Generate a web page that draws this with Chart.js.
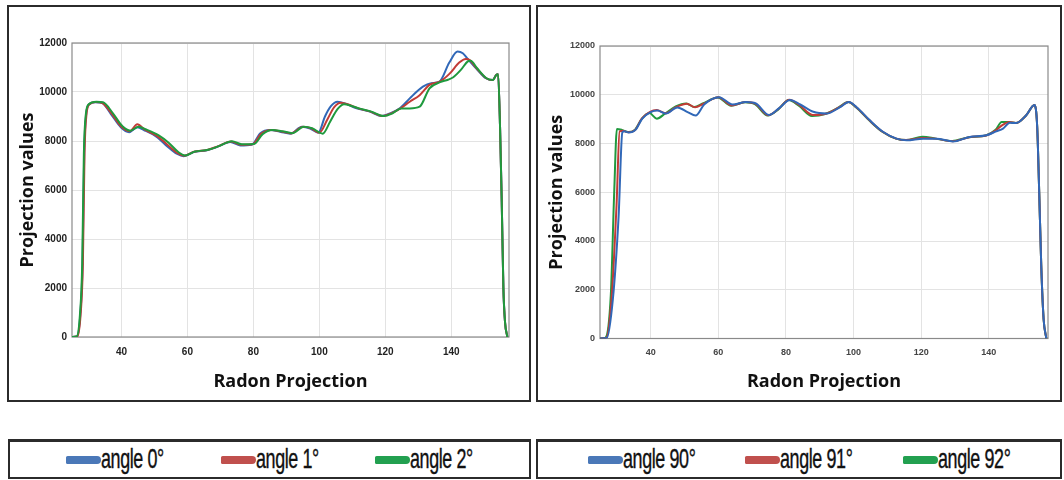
<!DOCTYPE html>
<html><head><meta charset="utf-8">
<script src="https://cdn.jsdelivr.net/npm/chart.js@4.4.0/dist/chart.umd.min.js"></script>
<style>
html,body{margin:0;padding:0;background:#fff;width:1064px;height:480px;overflow:hidden;position:relative}
.panel{position:absolute;border:2px solid #2b2b2b;box-sizing:border-box;background:#fff}
.panel canvas{position:absolute;left:0;top:0}
.legend{position:absolute;border:2px solid #2b2b2b;border-top-width:3px;box-sizing:border-box;display:flex;justify-content:space-evenly;align-items:center;background:#fff}
.item{display:flex;align-items:center;height:100%}
.sw{width:35px;height:8px;border-radius:2px 5px 5px 2px}
.lw{display:inline-block;overflow:visible;white-space:nowrap;height:34px;position:relative}
.lbl{position:absolute;left:0;top:0;font-family:"Liberation Sans",Arial,sans-serif;font-size:28px;line-height:32px;color:#111;transform:scaleX(0.64);transform-origin:left center;white-space:nowrap;letter-spacing:-0.6px;-webkit-text-stroke:0.4px #111}
</style></head>
<body>
<div class="panel" style="left:7px;top:5px;width:524px;height:397px"><canvas id="cL" width="520" height="393"></canvas></div>
<div class="panel" style="left:536px;top:5px;width:526px;height:397px"><canvas id="cR" width="522" height="393"></canvas></div>
<div class="legend" id="lgL" style="left:8px;top:439px;width:523px;height:40px"></div>
<div class="legend" id="lgR" style="left:536px;top:439px;width:526px;height:40px"></div>
<script>
// ---- data ----
const xTicks = [40, 60, 80, 100, 120, 140];
const yTicks = [0, 2000, 4000, 6000, 8000, 10000, 12000];
const leftLabels = ["angle 0°", "angle 1°", "angle 2°"];
const rightLabels = ["angle 90°", "angle 91°", "angle 92°"];

const left0 = [[25,0],[26.5,20],[27.5,900],[28.2,3000],[28.7,7500],[29.3,9100],[30.2,9500],[32,9580],[34,9560],[36.8,9100],[39.8,8560],[42.3,8360],[44.8,8560],[46.8,8450],[50.9,8150],[53.9,7780],[56.9,7470],[58.9,7380],[61.9,7550],[65.9,7620],[69,7760],[73,7960],[76,7820],[79.5,7850],[82.1,8320],[85.1,8450],[88.3,8370],[91.2,8300],[94.7,8580],[97.2,8510],[99.7,8340],[101.7,9000],[103.5,9420],[105.5,9600],[108,9520],[111.3,9330],[115.3,9200],[118.9,9020],[121.4,9130],[124.4,9330],[127.4,9740],[131.4,10220],[133.9,10360],[136.4,10420],[139.4,11200],[141.9,11650],[143.5,11580],[145,11350],[147.5,10970],[150.5,10560],[152.5,10490],[153.6,10690],[154.2,10720],[154.8,8500],[155.3,5500],[155.8,2000],[156.3,600],[157,0]];
const left1 = [[25,0],[26.6,20],[27.6,900],[28.3,3000],[28.8,7500],[29.4,9100],[30.3,9500],[32.2,9590],[34.2,9550],[37,9120],[40,8580],[42.5,8400],[44.8,8680],[47,8470],[51,8180],[54,7840],[57,7500],[59,7400],[62,7560],[66,7630],[69.2,7780],[73.2,7980],[76.2,7850],[79.8,7870],[82.4,8300],[85.4,8450],[88.5,8390],[91.5,8310],[95,8580],[97.5,8520],[100,8340],[102.5,8900],[104.5,9380],[106.5,9560],[109,9480],[111.8,9330],[115.5,9200],[119.2,9020],[121.8,9130],[124.6,9330],[127.4,9600],[130.4,9870],[133.4,10290],[136.5,10420],[139.5,10750],[142.4,11200],[144.4,11350],[145.6,11300],[147.6,10980],[150.6,10560],[152.6,10490],[153.6,10690],[154.2,10720],[154.8,8500],[155.3,5500],[155.8,2000],[156.3,600],[157,0]];
const left2 = [[25,0],[26.4,20],[27.4,900],[28.1,3000],[28.6,7500],[29.2,9100],[30.1,9500],[32.4,9600],[34.4,9580],[37.3,9150],[40.3,8600],[42.7,8420],[45.2,8580],[47.3,8480],[51.3,8230],[54.3,7930],[57.3,7540],[59.3,7410],[62.3,7570],[66.3,7640],[69.5,7790],[73.5,7990],[76.5,7870],[80.2,7880],[82.8,8280],[85.7,8450],[88.8,8400],[91.8,8320],[95.3,8580],[97.8,8520],[101,8300],[103.3,8800],[105.5,9300],[107.5,9500],[110,9420],[112.3,9320],[115.8,9200],[119.5,9020],[122.2,9130],[124.8,9330],[127.4,9330],[130.4,9400],[133.4,10150],[136.6,10400],[139,10500],[140.6,10600],[142.9,10900],[145,11250],[145.9,11280],[147.7,10990],[150.7,10560],[152.7,10490],[153.6,10690],[154.2,10720],[154.8,8500],[155.3,5500],[155.8,2000],[156.3,600],[157,0]];

const right90 = [[25,0],[27,20],[28.8,1600],[30.5,5000],[31.6,8450],[32.2,8500],[33.5,8450],[35.5,8560],[37.5,9020],[40,9290],[42,9350],[44.5,9230],[47.9,9480],[50.9,9290],[53.3,9150],[55.8,9600],[60.2,9900],[64.2,9600],[68.2,9700],[71.1,9640],[75,9170],[78,9450],[81.2,9780],[84.2,9600],[88.1,9300],[92,9230],[96,9490],[98.6,9700],[100.9,9490],[104.8,8950],[108.8,8470],[112.7,8200],[115.7,8130],[120.6,8200],[124.5,8200],[129.4,8080],[134.3,8270],[139.3,8340],[142.2,8500],[144.2,8610],[146.2,8850],[148.1,8840],[151,9150],[153.5,9580],[154.3,8700],[154.9,6000],[155.5,3000],[156.2,800],[157,0]];
const right91 = [[25,0],[26.8,20],[28.5,1800],[29.9,5500],[30.8,8500],[31.8,8520],[33.4,8460],[35.4,8560],[37.4,9030],[39.8,9300],[41.8,9370],[44.3,9240],[47.6,9500],[50.7,9630],[53.1,9490],[55.6,9630],[60,9900],[64,9560],[68,9700],[71,9630],[74.8,9160],[77.8,9420],[81,9790],[84,9570],[87.9,9170],[91.8,9220],[95.8,9490],[98.5,9700],[100.8,9490],[104.7,8950],[108.7,8470],[112.6,8200],[115.6,8140],[120.5,8230],[124.4,8200],[129.3,8090],[134.2,8260],[139.2,8330],[142.1,8540],[144,8750],[146.1,8880],[148,8840],[151,9150],[153.5,9580],[154.3,8700],[154.9,6000],[155.5,3000],[156.2,800],[157,0]];
const right92 = [[25,0],[26.5,20],[28.2,1800],[29.2,6000],[30,8600],[31.5,8560],[33.3,8470],[35.3,8560],[37.3,9000],[39.6,9250],[41.8,9020],[44.2,9220],[47.4,9520],[50.5,9640],[52.9,9500],[55.4,9640],[59.8,9890],[63.8,9550],[67.8,9690],[70.8,9620],[74.6,9150],[77.6,9380],[80.8,9780],[83.8,9550],[87.7,9130],[91.6,9210],[95.6,9480],[98.4,9700],[100.7,9490],[104.6,8950],[108.6,8470],[112.5,8200],[115.5,8140],[120.4,8280],[124.3,8200],[129.2,8100],[134.1,8260],[139.1,8330],[142,8560],[143.8,8880],[146,8880],[148,8840],[151,9150],[153.5,9580],[154.3,8700],[154.9,6000],[155.5,3000],[156.2,800],[157,0]];

const xMin = 25, xMax = 157.5, yMin = 0, yMax = 12000;
const colors = ["#4a78b8", "#c0504d", "#22a050"];
const lineColors = ["#3068b8", "#c23b36", "#1f9a3e"];

// ---- charts ----
const framePlugin = {
  id: 'frame',
  beforeDatasetsDraw(chart) {
    const a = chart.chartArea, ctx = chart.ctx;
    ctx.save(); ctx.strokeStyle = '#8a8a8a'; ctx.lineWidth = 1.2;
    ctx.strokeRect(a.left, a.top, a.right - a.left, a.bottom - a.top);
    ctx.restore();
  }
};
function toPts(arr){ return arr.map(p => ({x: p[0], y: p[1]})); }
function makeChart(id, series, labels, order, L) {
  const datasets = series.map((s, i) => ({
    label: labels[i], data: toPts(s), borderColor: lineColors[i], backgroundColor: lineColors[i],
    borderWidth: 2, pointRadius: 0, cubicInterpolationMode: 'monotone', fill: false, order: order[i]
  }));
  return new Chart(document.getElementById(id), {
    type: 'line',
    data: { datasets },
    options: {
      responsive: false, animation: false, events: [],
      layout: { padding: { top: L.top, right: L.right, left: 0, bottom: 0 } },
      plugins: { legend: { display: false }, tooltip: { enabled: false } },
      scales: {
        x: {
          type: 'linear', min: xMin, max: xMax,
          afterBuildTicks: s => { s.ticks = xTicks.map(v => ({value: v})); },
          afterFit: s => { s.height = L.xh; },
          grid: { color: '#e3e3e3', drawTicks: false },
          border: { display: false },
          ticks: { padding: L.xpad, color: L.tc, callback: v => String(v),
                   font: { family: 'Liberation Sans, Arial', size: L.tf, weight: 'bold' }, maxRotation: 0 },
          title: { display: true, text: 'Radon Projection', color: '#111', padding: { top: 0, bottom: L.xtb },
                   font: { family: 'Open Sans', size: 18, weight: 'bold' } }
        },
        y: {
          type: 'linear', min: yMin, max: yMax,
          afterBuildTicks: s => { s.ticks = yTicks.map(v => ({value: v})); },
          afterFit: s => { s.width = L.yw; },
          grid: { color: '#e3e3e3', drawTicks: false },
          border: { display: false },
          ticks: { padding: L.ypad, color: L.tc, callback: v => String(v),
                   font: { family: 'Liberation Sans, Arial', size: L.tf, weight: 'bold' } },
          title: { display: true, text: 'Projection values', color: '#111', padding: { top: L.ytp, bottom: 0 },
                   font: { family: 'Open Sans', size: 18, weight: 'bold' } }
        }
      }
    },
    plugins: [framePlugin]
  });
}
makeChart('cL', [left0, left1, left2], leftLabels, [3, 2, 1],
  { top: 36, right: 20, xh: 63, yw: 63, xpad: 9, ypad: 5, xtb: 7, ytp: 8, tc: '#222', tf: 10 });
makeChart('cR', [right90, right91, right92], rightLabels, [1, 2, 3],
  { top: 39, right: 12, xh: 61.5, yw: 62, xpad: 9, ypad: 5, xtb: 7, ytp: 8, tc: '#444', tf: 9 });

// ---- legends ----
function makeLegend(id, labels) {
  const box = document.getElementById(id);
  labels.forEach((t, i) => {
    const it = document.createElement('div'); it.className = 'item';
    const sw = document.createElement('div'); sw.className = 'sw'; sw.style.background = colors[i];
    const w = document.createElement('span'); w.className = 'lw';
    const l = document.createElement('span'); l.className = 'lbl'; l.textContent = t;
    w.appendChild(l); it.appendChild(sw); it.appendChild(w); box.appendChild(it);
    w.style.width = (l.getBoundingClientRect().width) + 'px';
  });
}
makeLegend('lgL', leftLabels);
makeLegend('lgR', rightLabels);
</script>
</body></html>
